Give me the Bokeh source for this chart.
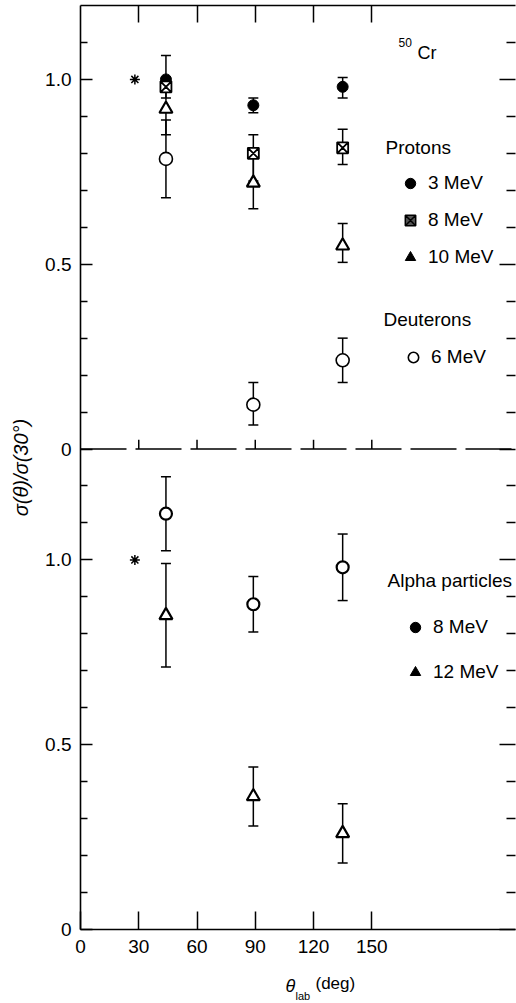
from bokeh.plotting import figure
from bokeh.layouts import column
from bokeh.models import (Range1d, LinearAxis, FixedTicker, Whisker, TeeHead,
                          ColumnDataSource, Span, Label, Legend, LegendItem)
from bokeh.embed import file_html
from bokeh.resources import INLINE

# ---------------- data ----------------
angles = [44, 89, 135]            # theta_lab (deg) of the measured points

# upper panel: protons and deuterons
p3_val = [1.00, 0.93, 0.98]       # protons 3 MeV
p3_up = [0.065, 0.02, 0.025]
p3_dn = [0.02, 0.02, 0.03]
p8_val = [0.98, 0.80, 0.815]      # protons 8 MeV
p8_up = [0.02, 0.05, 0.05]
p8_dn = [0.03, 0.075, 0.045]
p10_val = [0.92, 0.72, 0.55]      # protons 10 MeV
p10_up = [0.07, 0.08, 0.06]
p10_dn = [0.07, 0.07, 0.045]
d6_val = [0.785, 0.12, 0.24]      # deuterons 6 MeV
d6_up = [0.105, 0.06, 0.06]
d6_dn = [0.105, 0.055, 0.06]

# lower panel: alpha particles
a8_val = [1.125, 0.88, 0.98]      # alphas 8 MeV
a8_err = [0.10, 0.075, 0.09]
a12_val = [0.85, 0.36, 0.26]      # alphas 12 MeV
a12_err = [0.14, 0.08, 0.08]

norm_angle = [28]                  # normalisation point (*)
norm_val = [1.0]

x_ticks = [0, 30, 60, 90, 120, 150]
x_tick_labels = ["0", "30", "60", "90", "120", "150"]
y_major = [0, 0.5, 1.0]
y_major_labels = ["0", "0.5", "1.0"]
y_minor_bottom = [0.1, 0.2, 0.3, 0.4, 0.6, 0.7, 0.8, 0.9, 1.1, 1.2]
y_minor_top = [0.1, 0.2, 0.3, 0.4, 0.6, 0.7, 0.8, 0.9, 1.1]

BOTTOM_MAX = 1.3   # lower panel spans 0 .. 1.3
TOP_MAX = 1.2      # upper panel spans 0 .. 1.2
X_MAX = 224

FONT = "Liberation Sans"
INK = "black"
NAN = float("nan")

# ---------------- figure ----------------
p = figure(width=516, height=963,
           x_range=Range1d(0, X_MAX), y_range=Range1d(0, BOTTOM_MAX + TOP_MAX),
           output_backend="svg", toolbar_location=None,
           x_axis_location=None, y_axis_location=None,
           min_border_left=80, min_border_right=1, min_border_top=5,
           min_border_bottom=34, outline_line_color=None)
p.extra_y_ranges = {"top": Range1d(-BOTTOM_MAX, TOP_MAX)}
p.grid.visible = False

# left / right axes: a lower-panel scale and an upper-panel scale stacked
left_major = list(y_major) + [v + BOTTOM_MAX for v in y_major]
left_minor = list(y_minor_bottom) + [v + BOTTOM_MAX for v in y_minor_top]
overrides = {}
for v, lab in zip(y_major, y_major_labels):
    overrides[v] = lab
    overrides[v + BOTTOM_MAX] = lab

left = LinearAxis(ticker=FixedTicker(ticks=left_major, minor_ticks=left_minor),
                  major_label_overrides=overrides,
                  major_tick_in=12, major_tick_out=0,
                  minor_tick_in=7, minor_tick_out=0,
                  axis_line_width=1.6, major_tick_line_width=1.5,
                  minor_tick_line_width=1.5,
                  major_label_text_font=FONT, major_label_text_font_size="19px",
                  major_label_text_color=INK, major_label_standoff=9,
                  axis_label="σ(θ)/σ(30°)", axis_label_text_font=FONT,
                  axis_label_text_font_size="20px", axis_label_text_color=INK,
                  axis_label_text_font_style="italic",
                  axis_label_standoff=10)
p.add_layout(left, "left")

right = LinearAxis(ticker=FixedTicker(ticks=left_major, minor_ticks=left_minor),
                   major_label_overrides={t: "" for t in left_major},
                   major_tick_in=16, major_tick_out=0,
                   minor_tick_in=9, minor_tick_out=0,
                   axis_line_alpha=0, major_tick_line_width=1.5,
                   minor_tick_line_width=1.5, major_label_standoff=0)
p.add_layout(right, "right")

bottom = LinearAxis(ticker=FixedTicker(ticks=x_ticks, minor_ticks=[]),
                    major_label_overrides=dict(zip(x_ticks, x_tick_labels)),
                    major_tick_in=18, major_tick_out=0,
                    axis_line_width=1.6, major_tick_line_width=1.5,
                    major_label_text_font=FONT, major_label_text_font_size="19px",
                    major_label_text_color=INK, major_label_standoff=10)
p.add_layout(bottom, "below")

top = LinearAxis(ticker=FixedTicker(ticks=x_ticks[1:], minor_ticks=[]),
                 major_label_overrides={t: "" for t in x_ticks[1:]},
                 major_tick_in=17, major_tick_out=0,
                 axis_line_width=1.6, major_tick_line_width=1.5,
                 major_label_standoff=0)
p.add_layout(top, "above")

# dividing line between the two panels, with its small ticks
p.add_layout(Span(location=0, dimension="width", y_range_name="top",
                  line_color="black", line_width=1.5, line_dash="46 9"))
p.segment(x0=x_ticks[1:], y0=[0] * 5, x1=x_ticks[1:], y1=[0.025] * 5,
          y_range_name="top", line_color="black", line_width=1.5)


def errbars(val, up, dn, rng):
    src = ColumnDataSource(dict(x=angles,
                                upper=[v + u for v, u in zip(val, up)],
                                lower=[v - d for v, d in zip(val, dn)]))
    kw = {} if rng is None else {"y_range_name": rng}
    w = Whisker(source=src, base="x", upper="upper", lower="lower",
                dimension="height", line_color="black", line_width=1.5,
                upper_head=TeeHead(size=10, line_width=1.5),
                lower_head=TeeHead(size=10, line_width=1.5), **kw)
    p.add_layout(w)


errbars(p3_val, p3_up, p3_dn, "top")
errbars(p8_val, p8_up, p8_dn, "top")
errbars(p10_val, p10_up, p10_dn, "top")
errbars(d6_val, d6_up, d6_dn, "top")
errbars(a8_val, a8_err, a8_err, None)
errbars(a12_val, a12_err, a12_err, None)

# data markers
p.scatter(angles, p3_val, y_range_name="top", marker="circle", size=11,
          fill_color="black", line_color="black")
p.scatter(angles, p8_val, y_range_name="top", marker="square_x", size=11,
          fill_color="white", line_color="black", line_width=1.8)
p.scatter(angles, p10_val, y_range_name="top", marker="triangle", size=13,
          fill_color="white", line_color="black", line_width=2.2)
p.scatter(angles, d6_val, y_range_name="top", marker="circle", size=13,
          fill_color="white", line_color="black", line_width=1.6)
p.scatter(angles, a8_val, marker="circle", size=12,
          fill_color="white", line_color="black", line_width=2.2)
p.scatter(angles, a12_val, marker="triangle", size=13,
          fill_color="white", line_color="black", line_width=2.2)
p.scatter(norm_angle, norm_val, y_range_name="top", marker="asterisk", size=10,
          line_color="black", line_width=1.5)
p.scatter(norm_angle, norm_val, marker="asterisk", size=10,
          line_color="black", line_width=1.5)

# legend key glyphs (as printed in the key); not drawn in the plot area
k3 = p.scatter([NAN], [NAN], marker="circle", fill_color="black", line_color="black")
k8 = p.scatter([NAN], [NAN], marker="square_x", fill_color="#555555",
               line_color="black", line_width=1.5)
k10 = p.scatter([NAN], [NAN], marker="triangle", fill_color="black", line_color="black")
kd = p.scatter([NAN], [NAN], marker="circle", fill_color="white", line_color="black",
               line_width=1.6)
ka8 = p.scatter([NAN], [NAN], marker="circle", fill_color="black", line_color="black")
ka12 = p.scatter([NAN], [NAN], marker="triangle", fill_color="black", line_color="black")


def legend(items, loc, h, sp):
    lg = Legend(items=[LegendItem(label=t, renderers=[r]) for t, r in items],
                location=loc, orientation="vertical",
                glyph_width=26, glyph_height=h, label_height=h, spacing=sp,
                padding=0, margin=0, border_line_color=None,
                background_fill_alpha=0, label_text_font=FONT,
                label_text_font_size="19px", label_text_color=INK,
                label_standoff=5)
    p.add_layout(lg)


# legend locations are relative to the frame (frame bottom = 929 px)
legend([("3 MeV", k3), ("8 MeV", k8), ("10 MeV", k10)], (317, 655), 34, 3)
legend([("6 MeV", kd)], (320, 555), 34, 0)
legend([("8 MeV", ka8), ("12 MeV", ka12)], (322, 237), 40, 5)


def label(fig, x, y, text, size, style="normal"):
    fig.add_layout(Label(x=x, y=y, x_units="screen", y_units="screen", text=text,
                         text_font=FONT, text_font_size=size, text_color=INK,
                         text_font_style=style, text_baseline="middle",
                         text_align="left"))


label(p, 305, 782, "Protons", "19px")
label(p, 303, 610, "Deuterons", "19px")
label(p, 307, 349, "Alpha particles", "19px")
label(p, 318, 887, "50", "12px")
label(p, 337, 877, "Cr", "18px")

# x-axis title strip beneath the plot: θ_lab (deg)
# (its frame is aligned with the main plot's frame, which starts at x = 80)
cap = figure(width=516, height=40, x_range=Range1d(0, 516), y_range=Range1d(0, 40),
             output_backend="svg", toolbar_location=None,
             x_axis_location=None, y_axis_location=None,
             min_border=0, outline_line_color=None)
cap.grid.visible = False
label(cap, 205, 18, "θ", "18px", "italic")
label(cap, 215, 8, "lab", "11px")
label(cap, 235, 20, "(deg)", "17px")

layout = column(p, cap, spacing=0)
open("out.html", "w").write(file_html(layout, INLINE))
